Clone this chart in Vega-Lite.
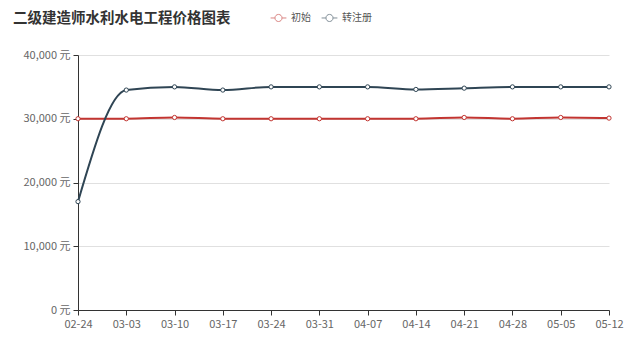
{
  "$schema": "https://vega.github.io/schema/vega-lite/v6.json",
  "autosize": {"type": "none"},
  "width": 531,
  "height": 255,
  "padding": {"left": 78, "top": 55, "right": 22, "bottom": 32},
  "background": "#ffffff",
  "title": {
    "text": "二级建造师水利水电工程价格图表",
    "anchor": "start",
    "frame": "group",
    "dx": -65,
    "offset": -17,
    "fontSize": 14.5,
    "fontWeight": "bold",
    "color": "#333333",
    "font": "Noto Sans CJK SC"
  },
  "config": {
    "view": {"stroke": null},
    "font": "Noto Sans CJK SC"
  },
  "data": {
    "values": [
      {"date": "02-24", "series": "初始", "price": 30000},
      {"date": "03-03", "series": "初始", "price": 30000},
      {"date": "03-10", "series": "初始", "price": 30200},
      {"date": "03-17", "series": "初始", "price": 30000},
      {"date": "03-24", "series": "初始", "price": 30000},
      {"date": "03-31", "series": "初始", "price": 30000},
      {"date": "04-07", "series": "初始", "price": 30000},
      {"date": "04-14", "series": "初始", "price": 30000},
      {"date": "04-21", "series": "初始", "price": 30200},
      {"date": "04-28", "series": "初始", "price": 30000},
      {"date": "05-05", "series": "初始", "price": 30200},
      {"date": "05-12", "series": "初始", "price": 30100},
      {"date": "02-24", "series": "转注册", "price": 17000},
      {"date": "03-03", "series": "转注册", "price": 34500},
      {"date": "03-10", "series": "转注册", "price": 35000},
      {"date": "03-17", "series": "转注册", "price": 34500},
      {"date": "03-24", "series": "转注册", "price": 35000},
      {"date": "03-31", "series": "转注册", "price": 35000},
      {"date": "04-07", "series": "转注册", "price": 35000},
      {"date": "04-14", "series": "转注册", "price": 34600},
      {"date": "04-21", "series": "转注册", "price": 34800},
      {"date": "04-28", "series": "转注册", "price": 35000},
      {"date": "05-05", "series": "转注册", "price": 35000},
      {"date": "05-12", "series": "转注册", "price": 35000}
    ]
  },
  "encoding": {
    "x": {
      "field": "date",
      "type": "ordinal",
      "scale": {"type": "point", "padding": 0},
      "axis": {
        "title": null,
        "labelAngle": 0,
        "labelFontSize": 11,
        "labelColor": "#666666",
        "labelPadding": 3,
        "domainColor": "#333333",
        "tickColor": "#333333",
        "tickSize": 5,
        "grid": false
      }
    },
    "y": {
      "field": "price",
      "type": "quantitative",
      "scale": {"domain": [0, 40000], "nice": false},
      "axis": {
        "title": null,
        "values": [0, 10000, 20000, 30000, 40000],
        "labelExpr": "format(datum.value, ',') + ' 元'",
        "labelFontSize": 11,
        "labelColor": "#666666",
        "labelPadding": 3,
        "domainColor": "#333333",
        "tickColor": "#333333",
        "tickSize": 5,
        "gridColor": "#e0e0e0",
        "gridWidth": 1
      }
    },
    "stroke": {
      "field": "series",
      "type": "nominal",
      "scale": {"domain": ["初始", "转注册"], "range": ["#c23531", "#2f4554"]},
      "legend": {
        "title": null,
        "orient": "none",
        "direction": "horizontal",
        "legendX": 192,
        "legendY": -46,
        "symbolType": "M-1,0L-0.45,0M0.45,0L1,0M0.45,0A0.45,0.45 0 1,1 -0.45,0A0.45,0.45 0 1,1 0.45,0",
        "symbolSize": 250,
        "symbolStrokeWidth": 1,
        "symbolFillColor": "#ffffff",
        "symbolOpacity": 0.6,
        "labelFontSize": 10,
        "labelColor": "#555555",
        "columnPadding": 8,
        "labelOffset": 4
      }
    }
  },
  "layer": [
    {
      "mark": {"type": "line", "interpolate": "monotone", "strokeWidth": 2}
    },
    {
      "mark": {"type": "point", "shape": "circle", "filled": false, "fill": "#ffffff", "fillOpacity": 1, "size": 18, "strokeWidth": 1, "opacity": 1}
    }
  ]
}
